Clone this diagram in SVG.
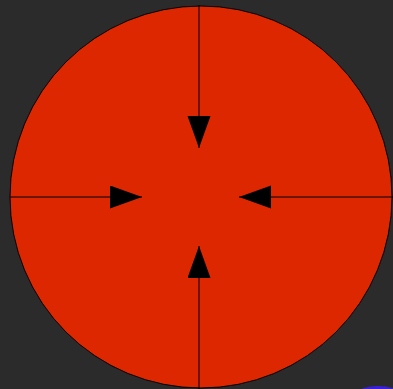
<svg xmlns="http://www.w3.org/2000/svg" width="393" height="389" viewBox="0 0 393 389">
  <style>
    .bg { fill: #2b2b2b; }
    .disc { fill: #dd2700; stroke: #000; stroke-width: 1; }
    .conn { stroke: #000; stroke-width: 1; fill: none; marker-end: url(#arrow); }
  </style>
  <defs>
    <marker id="arrow" markerUnits="userSpaceOnUse" markerWidth="33" markerHeight="24" refX="32" refY="11.5" orient="auto" viewBox="0 0 33 24">
      <path d="M0,0 L32,11.5 L0,23 Z" fill="#000"/>
    </marker>
  </defs>
  <rect class="bg" x="0" y="0" width="393" height="389"/>
  <g id="circle">
    <circle class="disc" cx="201" cy="197" r="191"/>
  </g>
  <g id="connectors">
    <line class="conn" x1="199" y1="5" x2="199" y2="148"/>
    <line class="conn" x1="10" y1="197" x2="142" y2="197"/>
    <line class="conn" x1="393" y1="197" x2="239" y2="197"/>
    <line class="conn" x1="199" y1="389" x2="199" y2="246"/>
  </g>
  <g id="corner">
    <ellipse cx="378" cy="393" rx="20" ry="7" fill="#3a1ee0"/>
  </g>
</svg>
